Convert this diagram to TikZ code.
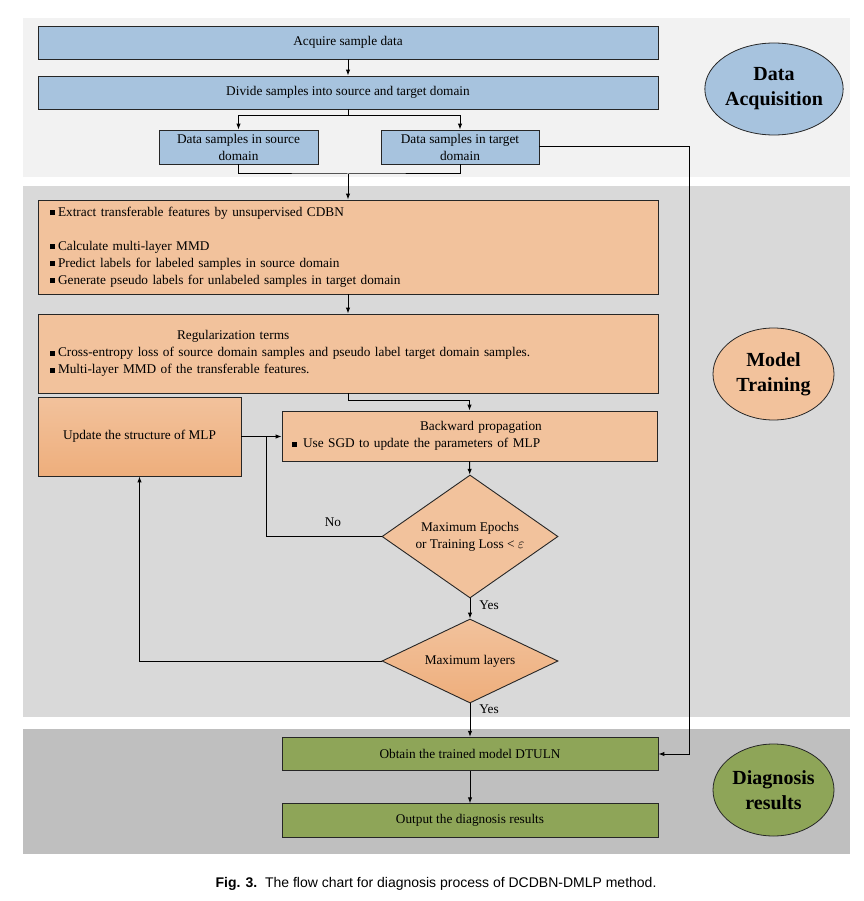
\documentclass[tikz,border=0pt]{standalone}
\usepackage{fontspec}
\setmainfont{Liberation Serif}
\newfontfamily\capfont{Liberation Sans}
\usetikzlibrary{positioning,arrows.meta,shapes.geometric}
\newcommand{\bul}[1][3pt]{\rule[1pt]{5pt}{5pt}\hspace{#1}}

\begin{document}
\begin{tikzpicture}[x=1pt,y=-1pt]
%styles
	\tikzset{
	box/.style={draw=black!85, line width=0.9pt, inner xsep=12pt, inner ysep=0pt, font=\fontsize{13.3}{17}\selectfont},
	bluebox/.style={box, fill=boxblue},
	orangebox/.style={box, fill=boxorange},
	greenbox/.style={box, fill=boxgreen, minimum width=376pt, minimum height=33.5pt},
	dec/.style={diamond, aspect=1.43, draw=black!85, line width=0.9pt, inner sep=0pt, minimum width=176pt, minimum height=123pt, align=center, font=\fontsize{13.3}{17}\selectfont},
	phase/.style={ellipse, draw=black!85, line width=0.8pt, minimum width=121pt, minimum height=92pt, inner sep=0pt, align=center, font=\fontsize{20}{25}\selectfont\bfseries},
	lbl/.style={font=\fontsize{13.3}{17}\selectfont},
	arrow/.style={-{Latex[length=6pt,width=4.5pt]}, line width=1pt}}
	\definecolor{boxblue}{RGB}{167,195,222}
	\definecolor{boxorange}{RGB}{242,194,156}
	\definecolor{boxorangedk}{RGB}{238,174,124}
	\definecolor{boxgreen}{RGB}{142,165,88}

	\useasboundingbox (0,0) rectangle (863,901);

%hintergrund
	\fill[black!5] (23,18) rectangle (850,177);
	\fill[black!15] (23,186) rectangle (850,717);
	\fill[black!25] (23,729) rectangle (850,854);

%data acquisition
	\node[bluebox, minimum width=620pt, minimum height=33pt] (acq) at (348,42.5) {Acquire sample data};
	\node[bluebox, minimum width=620pt, minimum height=33pt] (div) at (348,92.5) {Divide samples into source and target domain};
	\node[bluebox, minimum width=159pt, minimum height=34pt, inner xsep=2pt, align=center] (src) at (238.5,147) {Data samples in source\\domain};
	\node[bluebox, minimum width=158pt, minimum height=34pt, inner xsep=2pt, align=center] (tgt) at (460,147) {Data samples in target\\domain};
	\node[phase, fill=boxblue] (pda) at (774,89) {Data\\Acquisition};

	\draw[arrow] (acq) -- (div);
	\draw[arrow] (div.south) -- ++(0,6.5) -| (src.north);
	\draw[arrow] (div.south) -- ++(0,6.5) -| (tgt.north);
	\coordinate (join) at (348,174);
	\draw[line width=1pt] (src.south) |- (join) -| (tgt.south);

%model training
	\node[orangebox, text width=596pt, minimum height=94pt, align=left] (feat) at (348,247) {%
		\bul Extract transferable features by unsupervised CDBN\\[17pt]
		\bul Calculate multi-layer MMD\\
		\bul Predict labels for labeled samples in source domain\\
		\bul Generate pseudo labels for unlabeled samples in target domain};
	\node[orangebox, text width=596pt, minimum height=79pt, align=left] (reg) at (348,353.5) {%
		\hspace*{127pt}Regularization terms\\
		\bul Cross-entropy loss of source domain samples and pseudo label target domain samples.\\
		\bul Multi-layer MMD of the transferable features.};
	\node[box, top color=boxorange, bottom color=boxorangedk, minimum width=203pt, minimum height=79pt] (upd) at (139.5,436.5) {Update the structure of MLP};
	\node[orangebox, inner xsep=10pt, text width=355pt, minimum height=50pt, align=left] (bp) at (469.5,436) {%
		\hspace*{128pt}Backward propagation\\
		\bul[6pt]Use SGD to update the parameters of MLP};
	\node[dec, fill=boxorange] (epo) at (470,536.5) {Maximum Epochs\\or Training Loss < $\varepsilon$};
	\node[dec, top color=boxorange, bottom color=boxorangedk, minimum height=84pt, aspect=2.1] (lay) at (470,661) {Maximum layers};
	\node[phase, fill=boxorange] (pmt) at (773.5,374) {Model\\Training};

	\draw[arrow] (join) -- (feat);
	\draw[arrow] (feat) -- (reg);
	\draw[arrow] (reg.south) -- ++(0,7) -| (bp.north);
	\draw[arrow] (upd.east) -- (upd.east -| bp.west);
	\draw[arrow] (bp) -- (epo);
	\coordinate (nojoin) at (266,436.5);
	\draw[line width=1pt] (epo.west) -| (nojoin);
	\node[lbl] (no) at (333,522) {No};
	\draw[arrow] (epo) -- (lay);
	\node[lbl] (yes1) at (489,605) {Yes};
	\draw[arrow] (lay.west) -| (upd.south);

%diagnosis
	\node[greenbox] (obt) at (470,754) {Obtain the trained model DTULN};
	\node[greenbox] (out) at (470,820.5) {Output the diagnosis results};
	\node[phase, fill=boxgreen] (pdr) at (773.5,790) {Diagnosis\\results};

	\draw[arrow] (lay) -- (obt);
	\node[lbl] (yes2) at (489,709) {Yes};
	\draw[arrow] (obt) -- (out);
	\draw[arrow] (tgt.east) -- ++(150,0) |- (obt.east);

%caption
	\node[font=\capfont\fontsize{14}{16}\selectfont] (cap) at (436,884) {\textbf{Fig. 3.}\ \ The flow chart for diagnosis process of DCDBN-DMLP method.};
\end{tikzpicture}
\end{document}
